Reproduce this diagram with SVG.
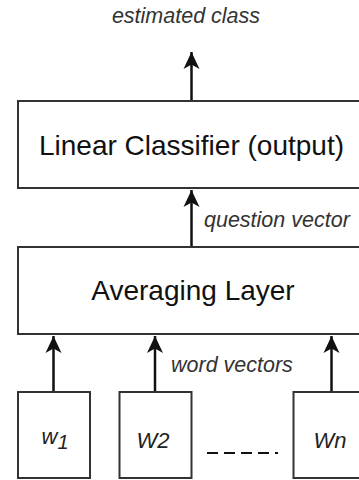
<svg xmlns="http://www.w3.org/2000/svg" width="359" height="480" viewBox="0 0 359 480">
<style>
.box{fill:#fff;stroke:#333;stroke-width:2}
.main{font-family:"Liberation Sans",Arial,sans-serif;font-size:28px;fill:#111;text-anchor:middle}
.lbl{font-family:"Liberation Sans",Arial,sans-serif;font-size:21.5px;font-style:italic;fill:#333}
.w{font-family:"Liberation Sans",Arial,sans-serif;font-size:22px;font-style:italic;fill:#222;text-anchor:middle}
.edge{stroke:#111;stroke-width:2.5;fill:none}
.dash{stroke:#111;stroke-width:2.2;stroke-dasharray:11 6;fill:none}
</style>
<defs>
<marker id="up" markerUnits="userSpaceOnUse" markerWidth="24" markerHeight="24" viewBox="-12 -2 24 24" refX="0" refY="0" orient="0">
<path d="M0,0 L8,17 L0,12.5 L-8,17 Z" fill="#111"/>
</marker>
</defs>
<g id="connectors">
<path class="edge" d="M191.5,101 V52" marker-end="url(#up)"/>
<path class="edge" d="M191.5,247 V190" marker-end="url(#up)"/>
<path class="edge" d="M53.5,392 V336" marker-end="url(#up)"/>
<path class="edge" d="M155,392 V336" marker-end="url(#up)"/>
<path class="edge" d="M331.5,392 V336" marker-end="url(#up)"/>
<path class="dash" d="M207,453 H278"/>
<text class="lbl" x="186" y="23" text-anchor="middle">estimated class</text>
<text class="lbl" x="204" y="227">question vector</text>
<text class="lbl" x="171" y="372">word vectors</text>
</g>
<g id="classifier">
<rect class="box" x="18" y="101" width="348" height="87"/>
<text class="main" x="191.5" y="155">Linear Classifier (output)</text>
</g>
<g id="averaging">
<rect class="box" x="18" y="247" width="348" height="87"/>
<text class="main" x="193" y="300">Averaging Layer</text>
</g>
<g id="w1">
<rect class="box" x="18" y="392" width="72" height="86"/>
<text class="w" x="55" y="444" font-size="28">w<tspan font-size="20" dy="5">1</tspan></text>
</g>
<g id="w2">
<rect class="box" x="119.5" y="392" width="72" height="86"/>
<text class="w" x="153" y="448">W2</text>
</g>
<g id="wn">
<rect class="box" x="293.5" y="392" width="72" height="86"/>
<text class="w" x="330" y="448">Wn</text>
</g>
</svg>
